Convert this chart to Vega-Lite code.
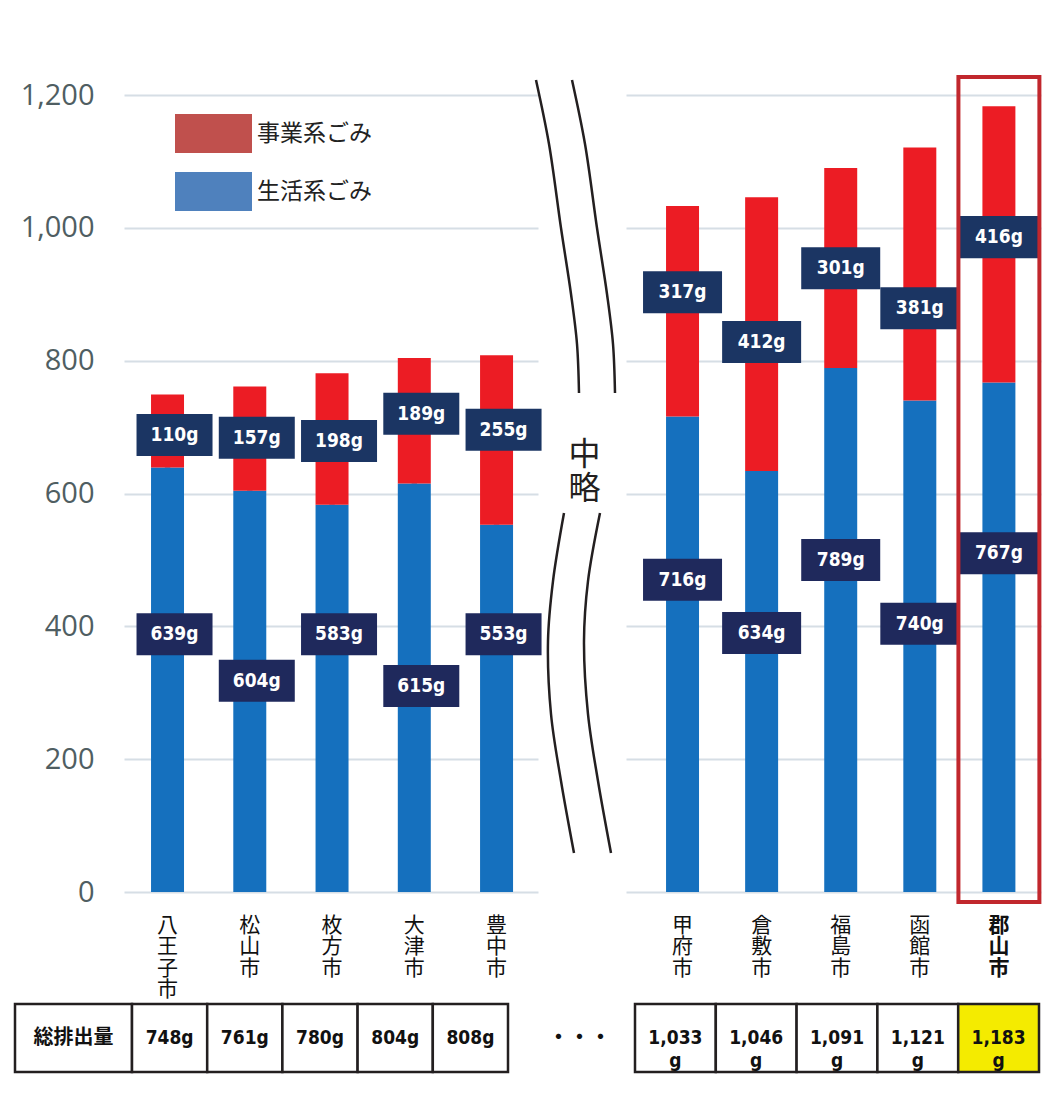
{
  "$schema": "https://vega.github.io/schema/vega-lite/v6.json",
  "padding": {"left": 13, "top": 74, "right": 0, "bottom": 0},
  "spacing": 0,
  "background": "white",
  "config": {
    "view": {"stroke": null},
    "axisY": {
      "grid": true, "gridColor": "#d6dee5", "gridWidth": 2, "domain": false, "ticks": false,
      "labelFont": "Open Sans", "labelFontSize": 29, "labelColor": "#4f5e62", "labelPadding": 30,
      "tickCount": 6, "minExtent": 0, "maxExtent": 0
    }
  },
  "datasets": {
    "left": [
      {"city": "八王子市", "type": "生活系ごみ", "value": 639, "labelAt": 388},
      {"city": "八王子市", "type": "事業系ごみ", "value": 110, "labelAt": 688},
      {"city": "松山市", "type": "生活系ごみ", "value": 604, "labelAt": 318},
      {"city": "松山市", "type": "事業系ごみ", "value": 157, "labelAt": 684},
      {"city": "枚方市", "type": "生活系ごみ", "value": 583, "labelAt": 388},
      {"city": "枚方市", "type": "事業系ごみ", "value": 198, "labelAt": 679},
      {"city": "大津市", "type": "生活系ごみ", "value": 615, "labelAt": 310},
      {"city": "大津市", "type": "事業系ごみ", "value": 189, "labelAt": 720},
      {"city": "豊中市", "type": "生活系ごみ", "value": 553, "labelAt": 388},
      {"city": "豊中市", "type": "事業系ごみ", "value": 255, "labelAt": 696}
    ],
    "right": [
      {"city": "甲府市", "type": "生活系ごみ", "value": 716, "labelAt": 470},
      {"city": "甲府市", "type": "事業系ごみ", "value": 317, "labelAt": 903},
      {"city": "倉敷市", "type": "生活系ごみ", "value": 634, "labelAt": 390},
      {"city": "倉敷市", "type": "事業系ごみ", "value": 412, "labelAt": 828},
      {"city": "福島市", "type": "生活系ごみ", "value": 789, "labelAt": 500},
      {"city": "福島市", "type": "事業系ごみ", "value": 301, "labelAt": 939},
      {"city": "函館市", "type": "生活系ごみ", "value": 740, "labelAt": 404},
      {"city": "函館市", "type": "事業系ごみ", "value": 381, "labelAt": 879},
      {"city": "郡山市", "type": "生活系ごみ", "value": 767, "labelAt": 510},
      {"city": "郡山市", "type": "事業系ごみ", "value": 416, "labelAt": 986}
    ],
    "totalsLeft": [
      {"city": "八王子市", "total": 748},
      {"city": "松山市", "total": 761},
      {"city": "枚方市", "total": 780},
      {"city": "大津市", "total": 804},
      {"city": "豊中市", "total": 808}
    ],
    "totalsRight": [
      {"city": "甲府市", "total": 1033},
      {"city": "倉敷市", "total": 1046},
      {"city": "福島市", "total": 1091},
      {"city": "函館市", "total": 1121},
      {"city": "郡山市", "total": 1183}
    ],
    "breakLines": [
      {"line": "t1", "i": 0, "x": -2, "y": 1222.6},
      {"line": "t1", "i": 1, "x": 11, "y": 1126.2},
      {"line": "t1", "i": 2, "x": 23, "y": 999.7},
      {"line": "t1", "i": 3, "x": 33, "y": 900.4},
      {"line": "t1", "i": 4, "x": 39, "y": 825.1},
      {"line": "t1", "i": 5, "x": 41, "y": 751.3},
      {"line": "t2", "i": 0, "x": 34, "y": 1222.6},
      {"line": "t2", "i": 1, "x": 47, "y": 1126.2},
      {"line": "t2", "i": 2, "x": 59, "y": 999.7},
      {"line": "t2", "i": 3, "x": 69, "y": 900.4},
      {"line": "t2", "i": 4, "x": 75, "y": 825.1},
      {"line": "t2", "i": 5, "x": 77, "y": 751.3},
      {"line": "b1", "i": 0, "x": 26, "y": 570.6},
      {"line": "b1", "i": 1, "x": 15, "y": 468.2},
      {"line": "b1", "i": 2, "x": 10, "y": 377.9},
      {"line": "b1", "i": 3, "x": 13, "y": 268.0},
      {"line": "b1", "i": 4, "x": 23, "y": 167.1},
      {"line": "b1", "i": 5, "x": 36, "y": 58.7},
      {"line": "b2", "i": 0, "x": 62, "y": 570.6},
      {"line": "b2", "i": 1, "x": 50, "y": 468.2},
      {"line": "b2", "i": 2, "x": 46, "y": 377.9},
      {"line": "b2", "i": 3, "x": 50, "y": 268.0},
      {"line": "b2", "i": 4, "x": 60, "y": 167.1},
      {"line": "b2", "i": 5, "x": 73, "y": 58.7}
    ]
  },
  "vconcat": [
    {
      "bounds": "flush",
      "spacing": 0,
      "hconcat": [
        {
          "width": 109,
          "height": 797,
          "data": {"name": "left"},
          "mark": {"type": "point", "opacity": 0},
          "encoding": {
            "y": {"field": "value", "type": "quantitative", "title": null,
                  "scale": {"domain": [0, 1200], "nice": false},
                  "axis": {"offset": -109, "grid": false, "minExtent": 0, "maxExtent": 0}}
          }
        },
        {
          "width": 414,
          "height": 797,
          "data": {"name": "left"},
          "encoding": {
            "x": {
              "field": "city", "type": "nominal", "title": null,
              "sort": ["八王子市", "松山市", "枚方市", "大津市", "豊中市"],
              "scale": {"paddingInner": 0.599, "paddingOuter": 0.316, "align": 0.52},
              "axis": {
                "labelAngle": 0, "labelBaseline": "top", "labelAlign": "center",
                "labelExpr": "split(datum.label, '')", "labelFont": "Noto Sans CJK JP",
                "labelFontSize": 21, "labelLineHeight": 21.5, "labelColor": "#111111",
                "labelPadding": 22, "domain": false, "ticks": false, "labelOverlap": false,
                "minExtent": 110, "maxExtent": 110
              }
            }
          },
          "layer": [
            {
              "mark": {"type": "point", "filled": true},
              "encoding": {
                "y": {"field": "value", "type": "quantitative", "stack": null, "title": null,
                      "scale": {"domain": [0, 1200], "nice": false}, "axis": {"labels": false}},
                "color": {
                  "field": "type", "type": "nominal",
                  "scale": {"domain": ["事業系ごみ", "生活系ごみ"], "range": ["#c0504d", "#4f81bd"]},
                  "legend": {
                    "title": null, "orient": "none", "legendX": 160, "legendY": 0, "direction": "vertical",
                    "padding": 0, "rowPadding": -29, "labelOffset": 5,
                    "labelFont": "Noto Sans CJK JP", "labelFontSize": 23, "labelColor": "#222222",
                    "symbolType": "M-1,-0.506L1,-0.506L1,0.506L-1,0.506Z", "symbolSize": 5929,
                    "symbolStrokeWidth": 0, "symbolOpacity": 1
                  }
                }
              }
            },
            {
              "mark": {"type": "bar"},
              "encoding": {
                "y": {"field": "value", "type": "quantitative", "stack": "zero", "title": null,
                      "scale": {"domain": [0, 1200], "nice": false}, "axis": {"labels": false}},
                "fill": {"field": "type", "type": "nominal", "legend": null,
                         "scale": {"domain": ["事業系ごみ", "生活系ごみ"], "range": ["#ec1c24", "#1570be"]}},
                "order": {"field": "type", "sort": "descending"}
              }
            },
            {
              "mark": {"type": "point", "shape": "M-1,-0.5526L1,-0.5526L1,0.5526L-1,0.5526Z", "size": 5776,
                       "filled": true, "opacity": 1, "strokeWidth": 0, "xOffset": 7},
              "encoding": {
                "y": {"field": "labelAt", "type": "quantitative", "stack": null, "title": null,
                      "scale": {"domain": [0, 1200], "nice": false}, "axis": {"labels": false}},
                "fill": {"condition": {"test": "datum.type === '事業系ごみ'", "value": "#1b3563"}, "value": "#1f295c"}
              }
            },
            {
              "transform": [{"calculate": "datum.value + 'g'", "as": "label"}],
              "mark": {"type": "text", "font": "Liberation Sans Narrow, DejaVu Sans Condensed, Roboto, sans-serif",
                       "fontWeight": "bold", "fontSize": 19, "color": "white", "align": "center",
                       "baseline": "middle", "xOffset": 7},
              "encoding": {
                "y": {"field": "labelAt", "type": "quantitative", "stack": null, "title": null,
                      "scale": {"domain": [0, 1200], "nice": false}, "axis": {"labels": false}},
                "text": {"field": "label"}
              }
            }
          ]
        },
        {
          "width": 88,
          "height": 797,
          "layer": [
            {
              "data": {"name": "breakLines"},
              "mark": {"type": "line", "interpolate": "catmull-rom", "color": "#231f20", "strokeWidth": 2.5, "clip": false},
              "encoding": {
                "x": {"field": "x", "type": "quantitative", "axis": null, "scale": {"domain": [0, 88], "nice": false, "zero": false}},
                "y": {"field": "y", "type": "quantitative", "axis": null, "scale": {"domain": [0, 1200], "nice": false}},
                "detail": {"field": "line"},
                "order": {"field": "i"}
              }
            },
            {
              "data": {"values": [{}]},
              "mark": {"type": "text", "text": "中\n略", "lineBreak": "\n", "font": "Noto Sans CJK JP",
                       "fontSize": 32, "lineHeight": 34, "align": "center", "baseline": "middle", "color": "#231f20"},
              "encoding": {
                "x": {"datum": 46.5, "type": "quantitative", "axis": null, "scale": {"domain": [0, 88], "nice": false, "zero": false}},
                "y": {"datum": 658, "type": "quantitative", "axis": null, "scale": {"domain": [0, 1200], "nice": false}}
              }
            }
          ]
        },
        {
          "width": 415,
          "height": 797,
          "data": {"name": "right"},
          "encoding": {
            "x": {
              "field": "city", "type": "nominal", "title": null,
              "sort": ["甲府市", "倉敷市", "福島市", "函館市", "郡山市"],
              "scale": {"paddingInner": 0.583, "paddingOuter": 0.415, "align": 0.61},
              "axis": {
                "labelAngle": 0, "labelBaseline": "top", "labelAlign": "center",
                "labelExpr": "split(datum.label, '')", "labelFont": "Noto Sans CJK JP",
                "labelFontSize": 21, "labelLineHeight": 21.5, "labelColor": "#111111",
                "labelFontWeight": {"condition": {"test": "datum.value === '郡山市'", "value": "bold"}, "value": "normal"},
                "labelPadding": 22, "domain": false, "ticks": false, "labelOverlap": false,
                "minExtent": 110, "maxExtent": 110
              }
            }
          },
          "layer": [
            {
              "mark": {"type": "bar"},
              "encoding": {
                "y": {"field": "value", "type": "quantitative", "stack": "zero", "title": null,
                      "scale": {"domain": [0, 1200], "nice": false}, "axis": {"labels": false}},
                "fill": {"field": "type", "type": "nominal", "legend": null,
                         "scale": {"domain": ["事業系ごみ", "生活系ごみ"], "range": ["#ec1c24", "#1570be"]}},
                "order": {"field": "type", "sort": "descending"}
              }
            },
            {
              "mark": {"type": "point", "shape": "M-1,-0.532L1,-0.532L1,0.532L-1,0.532Z", "size": 6241,
                       "filled": true, "opacity": 1, "strokeWidth": 0},
              "encoding": {
                "y": {"field": "labelAt", "type": "quantitative", "stack": null, "title": null,
                      "scale": {"domain": [0, 1200], "nice": false}, "axis": {"labels": false}},
                "fill": {"condition": {"test": "datum.type === '事業系ごみ'", "value": "#1b3563"}, "value": "#1f295c"}
              }
            },
            {
              "transform": [{"calculate": "datum.value + 'g'", "as": "label"}],
              "mark": {"type": "text", "font": "Liberation Sans Narrow, DejaVu Sans Condensed, Roboto, sans-serif",
                       "fontWeight": "bold", "fontSize": 19, "color": "white", "align": "center", "baseline": "middle"},
              "encoding": {
                "y": {"field": "labelAt", "type": "quantitative", "stack": null, "title": null,
                      "scale": {"domain": [0, 1200], "nice": false}, "axis": {"labels": false}},
                "text": {"field": "label"}
              }
            },
            {
              "transform": [{"filter": "datum.city === '郡山市' && datum.type === '生活系ごみ'"}],
              "mark": {"type": "bar", "fill": "white", "fillOpacity": 0, "stroke": "#c1272d", "strokeWidth": 4,
                       "width": {"band": 2.455}, "clip": false},
              "encoding": {
                "y": {"datum": 1227, "type": "quantitative", "title": null,
                      "scale": {"domain": [0, 1200], "nice": false}, "axis": {"labels": false}},
                "y2": {"datum": -15}
              }
            }
          ]
        }
      ]
    },
    {
      "bounds": "flush",
      "spacing": 0,
      "hconcat": [
        {
          "width": 117,
          "height": 68,
          "data": {"values": [{"h": "総排出量"}]},
          "encoding": {
            "x": {"field": "h", "type": "nominal", "axis": null, "scale": {"paddingInner": 0, "paddingOuter": 0}}
          },
          "layer": [
            {"mark": {"type": "rect", "fill": "white", "stroke": "#231f20", "strokeWidth": 2.5}},
            {"mark": {"type": "text", "font": "Noto Sans CJK JP", "fontWeight": "bold", "fontSize": 20, "color": "#111111"},
             "encoding": {"text": {"field": "h"}}}
          ]
        },
        {
          "width": 376,
          "height": 68,
          "data": {"name": "totalsLeft"},
          "transform": [{"calculate": "datum.total + 'g'", "as": "label"}],
          "encoding": {
            "x": {"field": "city", "type": "nominal", "axis": null,
                  "sort": ["八王子市", "松山市", "枚方市", "大津市", "豊中市"],
                  "scale": {"paddingInner": 0, "paddingOuter": 0}}
          },
          "layer": [
            {"mark": {"type": "rect", "fill": "white", "stroke": "#231f20", "strokeWidth": 2.5}},
            {"mark": {"type": "text", "font": "Liberation Sans Narrow, DejaVu Sans Condensed, Roboto, sans-serif",
                      "fontWeight": "bold", "fontSize": 19, "color": "#111111"},
             "encoding": {"text": {"field": "label"}}}
          ]
        },
        {
          "width": 127,
          "height": 68,
          "data": {"values": [{}]},
          "mark": {"type": "text", "text": "・・・", "font": "Noto Sans CJK JP", "fontWeight": "bold",
                   "fontSize": 21, "color": "#111111", "dx": 8}
        },
        {
          "width": 404,
          "height": 68,
          "data": {"name": "totalsRight"},
          "transform": [{"calculate": "format(datum.total, ',') + '\\n' + 'g'", "as": "label"}],
          "encoding": {
            "x": {"field": "city", "type": "nominal", "axis": null,
                  "sort": ["甲府市", "倉敷市", "福島市", "函館市", "郡山市"],
                  "scale": {"paddingInner": 0, "paddingOuter": 0}}
          },
          "layer": [
            {"mark": {"type": "rect", "stroke": "#231f20", "strokeWidth": 2.5},
             "encoding": {"fill": {"condition": {"test": "datum.city === '郡山市'", "value": "#f4eb00"}, "value": "white"}}},
            {"mark": {"type": "text", "font": "Liberation Sans Narrow, DejaVu Sans Condensed, Roboto, sans-serif",
                      "fontWeight": "bold", "fontSize": 19, "color": "#111111", "lineBreak": "\n", "lineHeight": 23},
             "encoding": {"text": {"field": "label"}}}
          ]
        }
      ]
    }
  ]
}
